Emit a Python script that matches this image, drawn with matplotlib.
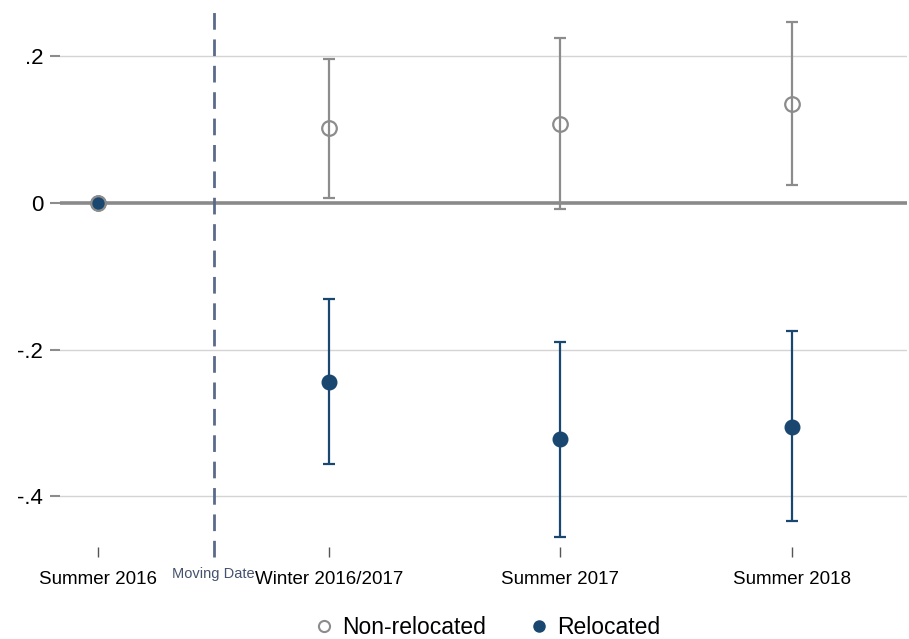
import matplotlib
matplotlib.use("Agg")
import matplotlib.pyplot as plt
from matplotlib.lines import Line2D

plt.rcParams['font.family'] = ['Liberation Sans', 'DejaVu Sans']

# data
periods   = ["Summer 2016", "Winter 2016/2017", "Summer 2017", "Summer 2018"]
period_x  = [0, 1, 2, 3]
moving_x  = 0.5

nonrel_est = [0.0, 0.102, 0.108, 0.135]
nonrel_lo  = [0.0, 0.007, -0.008, 0.025]
nonrel_hi  = [0.0, 0.196, 0.225, 0.247]

rel_est = [0.0, -0.244, -0.322, -0.306]
rel_lo  = [0.0, -0.356, -0.456, -0.434]
rel_hi  = [0.0, -0.131, -0.190, -0.175]

y_ticks  = [-0.4, -0.2, 0.0, 0.2]
y_labels = ["-.4", "-.2", "0", ".2"]

navy = "#1a476f"
grey = "#8c8c8c"
dash_col = "#5a6a8a"

def plot():
    fig = plt.figure(figsize=(9.09, 6.39), dpi=100)
    ax = fig.add_axes([0.066, 0.144, 0.932, 0.848])

    ax.set_xlim(-0.165, 3.5)
    ax.set_ylim(-0.469, 0.270)

    for s in ax.spines.values():
        s.set_visible(False)

    ax.set_yticks(y_ticks)
    ax.set_yticklabels(y_labels)
    for yt in y_ticks:
        if yt != 0:
            ax.axhline(yt, color="#d4d4d4", linewidth=1.0, zorder=0)
    ax.axhline(0, color="#8a8a8a", linewidth=2.6, zorder=1)

    # moving date line, running down through the tick area
    ax.axvline(moving_x, ymin=-0.019, ymax=0.997, color=dash_col, linewidth=2.0,
               dashes=(6, 3.5), clip_on=False, zorder=2)

    ax.set_xticks(period_x)
    ax.set_xticklabels(periods)
    ax.tick_params(axis='x', length=7, width=1.0, color="#555555", pad=10,
                   labelsize=13.5)
    ax.tick_params(axis='y', length=7, width=1.5, color=grey, pad=5,
                   labelsize=16)

    ax.text(moving_x, -0.05, "Moving Date", transform=ax.get_xaxis_transform(),
            ha='center', va='center', fontsize=10.5, color="#45526e")

    # confidence intervals
    nr_err = [[e - l for e, l in zip(nonrel_est, nonrel_lo)],
              [h - e for e, h in zip(nonrel_est, nonrel_hi)]]
    r_err = [[e - l for e, l in zip(rel_est, rel_lo)],
             [h - e for e, h in zip(rel_est, rel_hi)]]

    ax.errorbar(period_x[1:], rel_est[1:], yerr=[r_err[0][1:], r_err[1][1:]],
                fmt='none', ecolor=navy, elinewidth=1.6, capsize=4.5,
                capthick=1.6, zorder=3)
    ax.errorbar(period_x[1:], nonrel_est[1:], yerr=[nr_err[0][1:], nr_err[1][1:]],
                fmt='none', ecolor=grey, elinewidth=1.6, capsize=4.5,
                capthick=1.6, zorder=3)

    ax.plot(period_x, rel_est, 'o', color=navy, markersize=10.5,
            linestyle='none', zorder=4)
    ax.plot(period_x, nonrel_est, 'o', markerfacecolor='none',
            markeredgecolor=grey, markeredgewidth=1.6, markersize=10.5,
            linestyle='none', zorder=5)

    handles = [
        Line2D([], [], marker='o', linestyle='none', markerfacecolor='white',
               markeredgecolor=grey, markeredgewidth=1.5, markersize=8),
        Line2D([], [], marker='o', linestyle='none', color=navy, markersize=8),
    ]
    fig.legend(handles, ["Non-relocated", "Relocated"], loc='lower center',
               bbox_to_anchor=(0.535, -0.032), ncol=2, frameon=False,
               fontsize=16.5, handletextpad=0.3, columnspacing=1.8,
               handlelength=1.0)

    fig.savefig("out.png", dpi=100)

def main():
    plot()

if __name__ == "__main__":
    main()
